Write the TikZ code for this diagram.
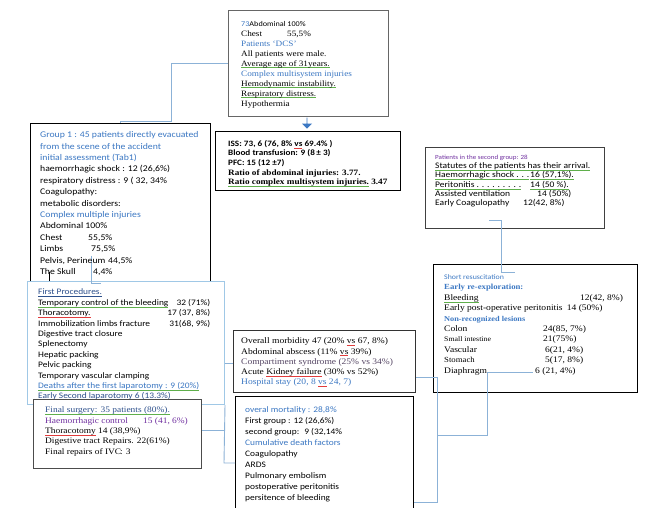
\documentclass[tikz,border=0pt]{standalone}
\usepackage{fontspec}
\setmainfont{Liberation Serif}[FakeStretch=1.12]
\newfontfamily\cfont{Carlito}[FakeStretch=1.12]
\usetikzlibrary{shapes.arrows}
\definecolor{tblue}{RGB}{60,120,195}
\definecolor{dblue}{RGB}{45,80,140}
\definecolor{tpurple}{RGB}{112,48,160}
\definecolor{connc}{RGB}{140,178,215}
\definecolor{lightbd}{RGB}{160,200,230}
\definecolor{gsq}{RGB}{95,175,75}
\definecolor{rsq}{RGB}{225,60,60}
\definecolor{cgray}{RGB}{85,70,100}
\newsavebox\ulbox
\newcommand\ulcol[2]{\sbox\ulbox{#2}\rlap{\textcolor{#1}{\rule[-1.9pt]{\wd\ulbox}{0.5pt}}}\usebox\ulbox}
\newcommand\gul[1]{\ulcol{gsq}{#1}}
\newcommand\rul[1]{\ulcol{rsq}{#1}}
\newcommand\cul[1]{\sbox\ulbox{#1}\rlap{\rule[-1.9pt]{\wd\ulbox}{0.5pt}}\usebox\ulbox}
\newcommand\lr[3]{\makebox[#1][l]{#2}#3}
\newcommand\lrr[3]{\makebox[#1]{#2\hfill#3}}
\tikzset{
  bx/.style={draw=black, line width=1.2pt, fill=white, inner sep=0pt, anchor=north west},
  tx/.style={anchor=north west, inner sep=0pt, align=left},
  conn/.style={draw=connc, line width=0.9pt},
}
\begin{document}
\begin{tikzpicture}[x=1pt,y=-1pt]
\useasboundingbox[fill=white] (0,0) rectangle (654,508);

% boxes
\node[bx, draw=black!60, minimum width=160pt, minimum height=106pt] (topbox) at (228,10) {};
\node[bx, minimum width=185pt, minimum height=59pt] (iss) at (215,131) {};
\node[bx, minimum width=180pt, minimum height=160pt] (g1) at (30,123) {};
\node[bx, draw=black!75, minimum width=179pt, minimum height=81pt] (g2) at (425,147) {};
\node[bx, minimum width=204pt, minimum height=128pt] (sr) at (433,264) {};
\node[bx, draw=lightbd, line width=1pt, minimum width=197pt, minimum height=123pt] (early) at (27,281) {};
\node[bx, draw=black!80, line width=1pt, minimum width=182pt, minimum height=62pt] (morb) at (233,330) {};
\node[bx, minimum width=178pt, minimum height=112pt] (mort) at (235,396) {};

% arrow
\node[single arrow, fill=tblue, draw=none, shape border rotate=270, minimum height=11pt,
      minimum width=10pt, single arrow head extend=2pt, inner sep=0pt] (arr) at (307,123) {};

% named free ends
\coordinate (c49) at (49,272);
\coordinate (c171) at (171,121);
\coordinate (g2in) at (489,220);
\coordinate (srin) at (515,272);
\coordinate (y363) at (0,363);
\coordinate (y377) at (0,377);
\coordinate (y502) at (0,502);
\coordinate (y430) at (0,430);
\coordinate (y463) at (0,463);
\coordinate (dstart) at (437,435);
\coordinate (dend) at (533,372);
\coordinate (skA) at (91,256);

% connectors
\draw[conn] (topbox.west) -| (c171) -| (g1.north);
\draw[black, line width=0.9pt] (c49) -- (early.north -| c49);
\draw[conn] (skA) -- (91,283) -- (101,283);
\draw[conn] (g2in) -- (501,220) -- (501,272) -- (srin);
\draw[conn] (early.east |- y363) -- (morb.west |- y363);
\draw[conn] (morb.east |- y377) -- (437,377) -- (437,502) -- (mort.east |- y502);
\draw[conn] (dstart) -- (487,435) -- (487,372) -- (dend);
\draw[conn] (early.south east) -- (224,463) -- (mort.west |- y463);

% texts
\node[tx, font=\fontsize{8.2}{10}\selectfont] (toptxt) at (241,20.8) {%
{\cfont\fontsize{7.3}{10}\selectfont\textcolor{tblue}{73}Abdominal 100\%}\\
\lr{46pt}{Chest}{55,5\%}\\
\textcolor{tblue}{Patients `DCS'}\\
All patients were male.\\
\gul{Average age of 31years.}\\
\textcolor{tblue}{Complex multisystem injuries}\\
\gul{Hemodynamic instability.}\\
\gul{Respiratory distress.}\\
Hypothermia};

\node[tx, font=\fontsize{8.2}{9.6}\selectfont\bfseries] (isstxt) at (228,140) {%
{\cfont ISS: 73, 6 (76, 8\% \rul{vs} 69.4\% )}\\
{\cfont Blood transfusion: 9 (8\,± 3)}\\
{\cfont PFC: 15 (12 ±7)}\\
Ratio of abdominal injuries: 3.77.\\
\gul{Ratio complex multisystem injuries.} 3.47};

\node[tx, font=\cfont\fontsize{8.7}{11.4}\selectfont] (g1txt) at (40,131.5) {%
\textcolor{tblue}{Group 1 : 45 patients directly evacuated}\\
\textcolor{tblue}{from the scene of the accident}\\
\textcolor{tblue}{initial assessment (Tab1)}\\
haemorrhagic shock : 12 (26,6\%)\\
respiratory distress : 9 ( 32, 34\%\\
Coagulopathy:\\
metabolic disorders:\\
\textcolor{tblue}{Complex multiple injuries}\\
Abdominal 100\%\\
\lr{48pt}{Chest}{55,5\%}\\
\lr{51pt}{Limbs}{75,5\%}\\
\lr{68pt}{Pelvis, Perineum}{44,5\%}\\
\lr{53pt}{The Skull}{4,4\%}};

\node[tx, font=\cfont\fontsize{8.5}{9.3}\selectfont] (g2txt) at (435,154.7) {%
{\fontsize{6.3}{9.3}\selectfont\textcolor{tpurple}{Patients in the second group: 28}}\\
\gul{Statutes of the patients has their arrival.}\\
\lr{95pt}{\gul{Haemorrhagic shock . . .}}{\gul{16 (57,1\%).}}\\
\lr{95pt}{\gul{Peritonitis . . . . . . . . .}}{\gul{14 (50 \%).}}\\
\lr{102pt}{Assisted ventilation}{14 (50\%)}\\
\lr{88pt}{Early Coagulopathy}{12(42, 8\%)}};

\node[tx, font=\fontsize{8.5}{10.4}\selectfont] (srtxt) at (444,274.5) {%
{\cfont\fontsize{7}{10.4}\selectfont\textcolor{tblue}{Short resuscitation}}\\
{\bfseries\fontsize{7.8}{10.4}\selectfont\textcolor{tblue}{Early re-exploration:}}\\
\lr{136pt}{\gul{Bleeding}}{12(42, 8\%)}\\
Early post-operative peritonitis\enspace14 (50\%)\\
{\bfseries\fontsize{7.4}{10.4}\selectfont\textcolor{tblue}{Non-recognized lesions}}\\
\lr{99pt}{Colon}{24(85, 7\%)}\\
\lr{99pt}{\fontsize{7}{10.4}\selectfont Small intestine}{21(75\%)}\\
\lr{101pt}{Vascular}{6(21, 4\%)}\\
\lr{101pt}{\fontsize{7.8}{10.4}\selectfont Stomach}{5(17, 8\%)}\\
\lr{91pt}{Diaphragm}{6 (21, 4\%)}};

\node[tx, font=\cfont\fontsize{8.4}{10.4}\selectfont] (earlytxt) at (38,288.8) {%
\textcolor{dblue}{\cul{First Procedures.}}\\
\lrr{172pt}{\gul{Temporary control of the bleeding}}{32 (71\%)}\\
\lrr{172pt}{\rul{Thoracotomy.}}{17 (37, 8\%)}\\
\lrr{172pt}{Immobilization limbs fracture}{31(68, 9\%)}\\
Digestive tract closure\\
Splenectomy\\
Hepatic packing\\
Pelvic packing\\
Temporary vascular clamping\\
\textcolor{tblue}{\gul{Deaths after the first laparotomy : 9 (20\%)}}\\
\textcolor{dblue}{\cul{Early Second laparotomy 6 (13.3\%)}}};

% final box drawn over the early box
\node[bx, draw=black!70, minimum width=168pt, minimum height=69pt] (final) at (33,399) {};
\draw[conn] (final.east |- y430) -- (224,430);

\node[tx, font=\fontsize{8.4}{10.3}\selectfont] (finaltxt) at (45,406.8) {%
\textcolor{dblue}{\gul{Final surgery: 35 patients (80\%).}}\\
\lr{98pt}{\textcolor{tpurple}{Haemorrhagic control}}{\textcolor{tpurple}{15 (41, 6\%)}}\\
\rul{Thoracotomy} 14 (38,9\%)\\
Digestive tract Repairs. 22(61\%)\\
\lr{75pt}{Final repairs of IVC}{: 3}};

\node[tx, font=\fontsize{8.5}{10.2}\selectfont] (morbtxt) at (241,337.8) {%
Overall morbidity 47 (20\% \rul{vs} 67, 8\%)\\
Abdominal abscess (11\% \rul{vs} 39\%)\\
\textcolor{cgray}{Compartiment syndrome (25\% vs 34\%)}\\
Acute \rul{Kidney failure} (30\% vs 52\%)\\
\textcolor{tblue}{Hospital stay (20, 8 \rul{vs} 24, 7)}};

\node[tx, font=\cfont\fontsize{8.4}{11}\selectfont] (morttxt) at (245,406.8) {%
\textcolor{tblue}{overal mortality : 28,8\%}\\
First group : 12 (26,6\%)\\
second group: \ 9 (32,14\%\\
\textcolor{tblue}{Cumulative death factors}\\
Coagulopathy\\
ARDS\\
Pulmonary embolism\\
postoperative peritonitis\\
persitence of bleeding};
\end{tikzpicture}
\end{document}
